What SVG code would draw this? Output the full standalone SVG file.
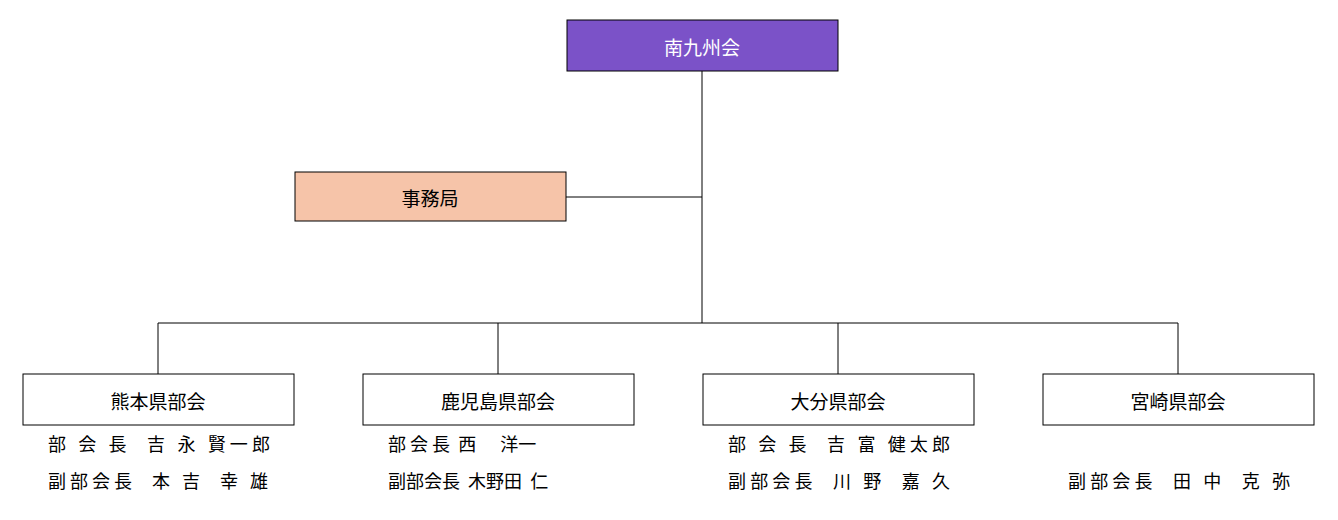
<svg xmlns="http://www.w3.org/2000/svg" width="1338" height="520" viewBox="0 0 1338 520">
<style>
.b{stroke:#000;stroke-width:1;fill:#fff}
.t{font-family:"Noto Sans CJK JP",sans-serif;font-size:19px;fill:#000;text-anchor:middle;dominant-baseline:central}
.m{font-family:"Noto Sans CJK JP",sans-serif;font-size:18px;fill:#000;white-space:pre}
#conn line{stroke:#000;stroke-width:1}
</style>
<rect width="1338" height="520" fill="#fff"/>
<g id="conn">
<line x1="702" y1="71" x2="702" y2="323"/>
<line x1="566" y1="197" x2="702" y2="197"/>
<line x1="158" y1="323" x2="1178" y2="323"/>
<line x1="158" y1="323" x2="158" y2="374"/>
<line x1="498" y1="323" x2="498" y2="374"/>
<line x1="838" y1="323" x2="838" y2="374"/>
<line x1="1178" y1="323" x2="1178" y2="374"/>
</g>
<g id="top"><rect x="567" y="20" width="271" height="51" fill="#7B52C8" stroke="#000"/><text class="t" x="702" y="46" style="fill:#fff">南九州会</text></g>
<g id="office"><rect x="295" y="172" width="271" height="49" fill="#F6C4A9" stroke="#000"/><text class="t" x="430" y="197">事務局</text></g>
<g id="kumamoto"><rect class="b" x="23" y="374" width="271" height="51"/><text class="t" x="158" y="400">熊本県部会</text>
<text class="m" x="48" y="451" textLength="222" lengthAdjust="spacing">部 会 長  吉 永 賢一郎</text>
<text class="m" x="48" y="488" textLength="220" lengthAdjust="spacing">副部会長  本 吉  幸 雄</text></g>
<g id="kagoshima"><rect class="b" x="363" y="374" width="271" height="51"/><text class="t" x="498" y="400">鹿児島県部会</text>
<text class="m" x="388" y="451">部 会 長  西      洋一</text>
<text class="m" x="388" y="488">副部会長  木野田  仁</text></g>
<g id="oita"><rect class="b" x="703" y="374" width="271" height="51"/><text class="t" x="838" y="400">大分県部会</text>
<text class="m" x="728" y="451" textLength="222" lengthAdjust="spacing">部 会 長  吉 富 健太郎</text>
<text class="m" x="728" y="488" textLength="222" lengthAdjust="spacing">副部会長  川 野  嘉 久</text></g>
<g id="miyazaki"><rect class="b" x="1043" y="374" width="271" height="51"/><text class="t" x="1178" y="400">宮崎県部会</text>
<text class="m" x="1068" y="488" textLength="222" lengthAdjust="spacing">副部会長  田 中  克 弥</text></g>
</svg>
